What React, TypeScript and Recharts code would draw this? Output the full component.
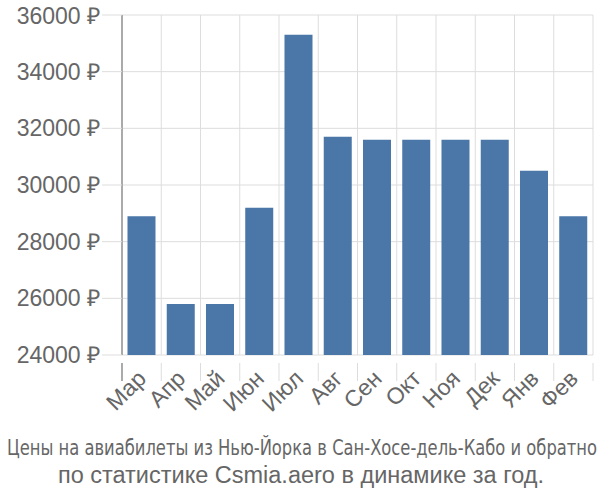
import React from "react";
import { BarChart, Bar, XAxis, YAxis, CartesianGrid } from "recharts";

const months = ["Мар", "Апр", "Май", "Июн", "Июл", "Авг", "Сен", "Окт", "Ноя", "Дек", "Янв", "Фев"];
const prices = [28900, 25800, 25800, 29200, 35300, 31700, 31600, 31600, 31600, 31600, 30500, 28900];
const yTicks = [24000, 26000, 28000, 30000, 32000, 34000, 36000];
const captionLine1 = "Цены на авиабилеты из Нью-Йорка в Сан-Хосе-дель-Кабо и обратно";
const captionLine2 = "по статистике Csmia.aero в динамике за год.";

const data = months.map((m, i) => ({ month: m, price: prices[i] }));

const W = 600;
const H = 500;
const M = { top: 15, right: 7, left: 0, bottom: 135 };
const Y_W = 122;
const plotW = W - M.left - M.right - Y_W;
const step = plotW / months.length;
const textColor = "#666666";
const gridColor = "#dddddd";
const FONT = "'Liberation Sans', Arial, sans-serif";
const CAP_SCALE = 0.82;

const XTick = (props: any) => {
  const { x, y, payload, index } = props;
  const left = x - step / 2;
  const isLast = index === months.length - 1;
  return (
    <g>
      <line x1={left} x2={left} y1={y} y2={y + 18} stroke={index === 0 ? "#aaaaaa" : gridColor} strokeWidth={index === 0 ? 2 : 1} />
      {isLast && (
        <line x1={x + step / 2} x2={x + step / 2} y1={y} y2={y + 18} stroke={gridColor} strokeWidth={1} />
      )}
      <text
        x={x + 6}
        y={y + 17}
        textAnchor="end"
        fill={textColor}
        fontSize={23}
        fontFamily={FONT}
        transform={`rotate(-45 ${x + 6} ${y + 17})`}
      >
        {payload.value}
      </text>
    </g>
  );
};

const fmt = (v: number) => `${v} ₽`;

export default function App() {
  return (
    <div style={{ position: "absolute", left: 0, top: 0, width: W, height: H, background: "#fff" }}>
      <BarChart width={W} height={H} data={data} margin={M} barCategoryGap="14%">
        <CartesianGrid
          stroke={gridColor}
          strokeWidth={1}
          verticalCoordinatesGenerator={({ offset }: any) =>
            Array.from({ length: months.length + 1 }, (_, i) => offset.left + (i * offset.width) / months.length)
          }
        />
        <XAxis
          dataKey="month"
          interval={0}
          tickLine={false}
          axisLine={false}
          tick={<XTick />}
          height={10}
        />
        <YAxis
          width={Y_W}
          domain={[24000, 36000]}
          ticks={yTicks}
          tickFormatter={fmt}
          tickSize={20}
          tickMargin={2}
          tickLine={{ stroke: gridColor }}
          axisLine={{ stroke: "#aaaaaa", strokeWidth: 2 }}
          tick={{ fill: textColor, fontSize: 23, fontFamily: FONT }}
          allowDataOverflow
        />
        <Bar dataKey="price" fill="#4a76a8" isAnimationActive={false} />
        <g transform={`translate(${W / 2 + 2} 455) scale(${CAP_SCALE} 1)`}>
          <text
            x={0}
            y={0}
            textAnchor="middle"
            fill={textColor}
            fontSize={22}
            fontFamily="'Liberation Sans Narrow', 'DejaVu Sans Condensed', sans-serif"
            textLength={590 / CAP_SCALE}
            lengthAdjust="spacingAndGlyphs"
          >
            {captionLine1}
          </text>
        </g>
        <text
          x={W / 2 + 1}
          y={483}
          textAnchor="middle"
          fill={textColor}
          fontSize={23.5}
          fontFamily={FONT}
        >
          {captionLine2}
        </text>
      </BarChart>
    </div>
  );
}
